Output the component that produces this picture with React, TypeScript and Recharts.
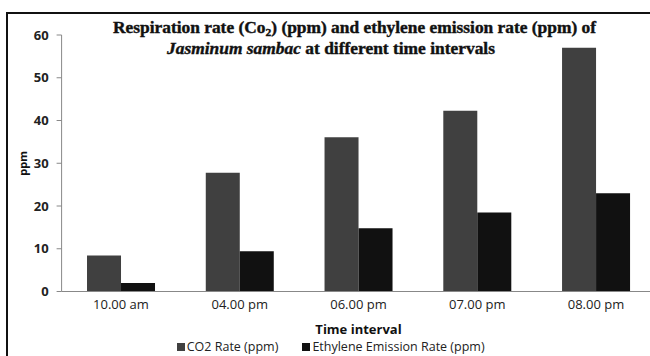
import React from 'react';
import { BarChart, Bar, XAxis, YAxis, Legend } from 'recharts';

// values
const timeIntervals = ['10.00 am', '04.00 pm', '06.00 pm', '07.00 pm', '08.00 pm'];
const co2Rate = [8.4, 27.8, 36.1, 42.3, 57];
const ethyleneRate = [2, 9.4, 14.8, 18.5, 23];
const yTicks = [0, 10, 20, 30, 40, 50, 60];

const CO2_COLOR = '#404040';
const ETH_COLOR = '#111111';
const SANS = '"Open Sans", "DejaVu Sans", sans-serif';
const SERIF = '"Liberation Serif", "DejaVu Serif", serif';

const data = timeIntervals.map((t, i) => ({
  time: t,
  co2: co2Rate[i],
  ethylene: ethyleneRate[i],
}));

function LegendContent() {
  const items = [
    { label: 'CO2 Rate (ppm)', color: CO2_COLOR },
    { label: 'Ethylene Emission Rate (ppm)', color: ETH_COLOR },
  ];
  return (
    <div
      style={{
        display: 'flex',
        justifyContent: 'center',
        alignItems: 'center',
        gap: 24,
        height: 17,
        lineHeight: '17px',
        paddingLeft: 6,
        fontFamily: SANS,
        fontSize: 12.5,
        color: '#222',
      }}
    >
      {items.map((it) => (
        <span key={it.label} style={{ display: 'flex', alignItems: 'center', gap: 2 }}>
          <span style={{ width: 8, height: 8, background: it.color, display: 'inline-block' }} />
          {it.label}
        </span>
      ))}
    </div>
  );
}

function PpmLabel(props: any) {
  const vb = props.viewBox || { x: 0, y: 0, height: 0 };
  const cx = 22;
  const cy = vb.y + vb.height / 2;
  return (
    <text
      x={cx}
      y={cy}
      transform={`rotate(-90 ${cx} ${cy})`}
      textAnchor="middle"
      dominantBaseline="central"
      fontFamily={SANS}
      fontSize={11}
      fontWeight="bold"
      fill="#111"
    >
      ppm
    </text>
  );
}

export default function App() {
  return (
    <div
      style={{
        position: 'absolute',
        left: 0,
        top: 0,
        width: 650,
        height: 356,
        overflow: 'hidden',
        background: '#fff',
      }}
    >
      <div style={{ position: 'absolute', left: 0, top: 0 }}>
        <BarChart
          width={700}
          height={360}
          data={data}
          margin={{ top: 35, right: 44.6, bottom: 0, left: 0 }}
          barCategoryGap="21.4%"
          barGap={0}
        >
          <XAxis
            dataKey="time"
            height={46.5}
            tickLine={false}
            axisLine={{ stroke: '#888' }}
            tick={{ fontFamily: SANS, fontSize: 13, fill: '#222' }}
            label={{
              value: 'Time interval',
              position: 'insideBottom',
              offset: 4,
              style: { fontFamily: SANS, fontSize: 13, fontWeight: 'bold', fill: '#111' },
            }}
          />
          <YAxis
            width={61.6}
            domain={[0, 60]}
            ticks={yTicks}
            tickSize={5}
            tickMargin={8}
            axisLine={{ stroke: '#888' }}
            tickLine={{ stroke: '#888' }}
            tick={{ fontFamily: SANS, fontSize: 13, fontWeight: 'bold', fill: '#222' }}
            label={<PpmLabel />}
          />
          <Legend verticalAlign="bottom" height={22} content={<LegendContent />} />
          <Bar dataKey="co2" name="CO2 Rate (ppm)" fill={CO2_COLOR} isAnimationActive={false} />
          <Bar dataKey="ethylene" name="Ethylene Emission Rate (ppm)" fill={ETH_COLOR} isAnimationActive={false} />
        </BarChart>
      </div>
      <div
        style={{
          position: 'absolute',
          left: 6,
          top: 12,
          width: 700,
          height: 400,
          border: '2px solid #111',
          pointerEvents: 'none',
        }}
      />
      <svg
        width={650}
        height={70}
        style={{ position: 'absolute', left: 0, top: 0, pointerEvents: 'none' }}
      >
        <text
          x={113}
          y={33}
          fontFamily={SERIF}
          fontSize={16.5}
          fontWeight="bold"
          fill="#111"
          stroke="#111"
          strokeWidth={0.4}
          textLength={483}
          lengthAdjust="spacingAndGlyphs"
        >
          Respiration rate (Co
          <tspan fontSize={11} dy={3}>2</tspan>
          <tspan dy={-3}>) (ppm) and ethylene emission rate (ppm) of</tspan>
        </text>
        <text
          x={167}
          y={54}
          fontFamily={SERIF}
          fontSize={16.5}
          fontWeight="bold"
          fill="#111"
          stroke="#111"
          strokeWidth={0.4}
          textLength={328}
          lengthAdjust="spacingAndGlyphs"
        >
          <tspan fontStyle="italic">Jasminum sambac</tspan> at different time intervals
        </text>
      </svg>
    </div>
  );
}
